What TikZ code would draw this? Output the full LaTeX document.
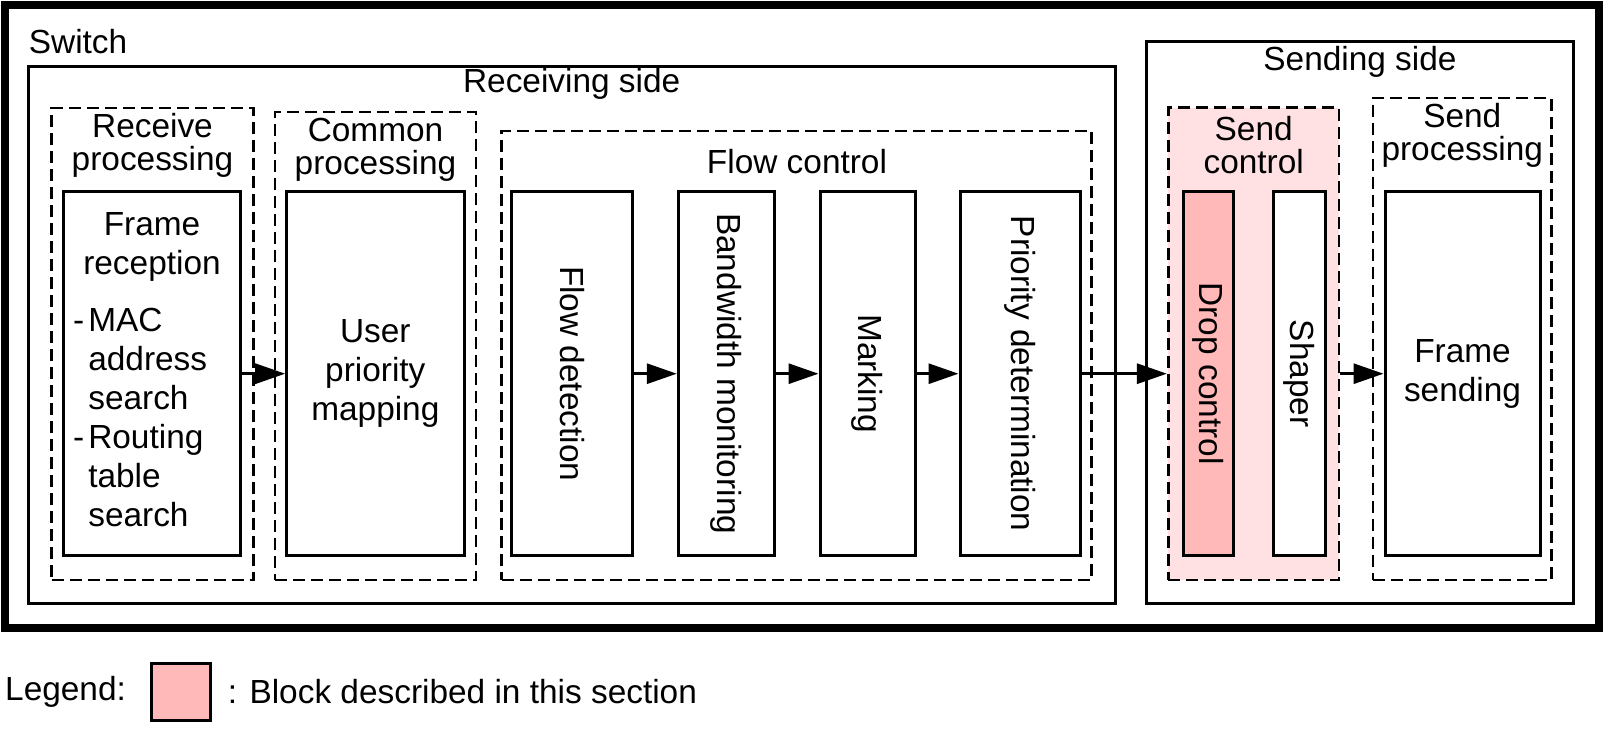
\documentclass[tikz,border=0pt]{standalone}
\usepackage{fontspec}
\setmainfont{Liberation Sans}
\usetikzlibrary{arrows.meta}
\definecolor{pinkdark}{RGB}{255,185,185}
\definecolor{pinklight}{RGB}{255,225,228}
\tikzset{
  blk/.style={draw, line width=3, inner sep=0, align=center},
  grp/.style={draw, line width=2.8, dash pattern=on 12 off 6, inner sep=0},
  side/.style={draw, line width=3, inner sep=0},
  lbl/.style={inner sep=0, align=center, font=\fontsize{33.4}{33}\selectfont},
  vtxt/.style={blk, rotate=-90},
  arr/.style={line width=3, -{Triangle[length=30,width=20]}},
}
\begin{document}
\begin{tikzpicture}[x=1pt,y=-1pt,font=\fontsize{33.4}{39}\selectfont]
\useasboundingbox (0,0) rectangle (1604,729);
% outer switch frame
\node[draw, line width=8, inner sep=0, minimum width=1593.7, minimum height=622.5] (switch) at (802.15,316.25) {};
\node[anchor=base west, inner sep=0] (switchlbl) at (28.7,53.3) {Switch};
% receiving side
\node[side, minimum width=1086.7, minimum height=536.6] (recv) at (571.65,335) {};
\node[lbl] (recvlbl) at (571.7,84) {Receiving side};
% receive processing
\node[grp, minimum width=201.6, minimum height=472] (rproc) at (152.5,344) {};
\node[lbl] (rproclbl) at (152.5,145.5) {Receive\\processing};
\node[blk, minimum width=177.4, minimum height=364] (framerec) at (152,373.7) {};
\node[inner sep=0, align=center] (frtitle) at (152,247) {Frame\\reception};
\node[inner sep=0, anchor=north west] (frlist) at (73,303.5) {\begin{tabular}{@{}l@{\hspace{4pt}}l@{}}-&MAC\\ &address\\ &search\\ -&Routing\\ &table\\ &search\end{tabular}};
% common processing
\node[grp, minimum width=201, minimum height=468] (cproc) at (375.5,346) {};
\node[lbl] (cproclbl) at (375.5,149.5) {Common\\processing};
\node[blk, minimum width=177.3, minimum height=364] (userprio) at (375.35,373.7) {User\\priority\\mapping};
% flow control
\node[grp, minimum width=590, minimum height=449] (flow) at (796.7,355.5) {};
\node[lbl] (flowlbl) at (797,162) {Flow control};
\node[vtxt, minimum width=364, minimum height=120.6] (flowdet) at (572,373.7) {Flow detection};
\node[vtxt, minimum width=364, minimum height=95.7] (bwmon) at (726.15,373.7) {Bandwidth monitoring};
\node[vtxt, minimum width=364, minimum height=95] (marking) at (867.5,373.7) {Marking};
\node[vtxt, minimum width=364, minimum height=120] (priodet) at (1020,373.7) {Priority determination};
% sending side
\node[side, minimum width=426.6, minimum height=562.3] (send) at (1360,322.15) {};
\node[lbl] (sendlbl) at (1360,61.5) {Sending side};
\node[grp, fill=pinklight, minimum width=170.7, minimum height=472.3] (sendctl) at (1253.65,343.85) {};
\node[lbl] (sendctllbl) at (1253.7,145.5) {Send\\control};
\node[vtxt, fill=pinkdark, minimum width=364, minimum height=50] (dropctl) at (1208.3,373.7) {Drop control};
\node[vtxt, fill=white, minimum width=364, minimum height=51.7] (shaper) at (1299.15,373.7) {Shaper};
\node[grp, minimum width=178.7, minimum height=482] (sproc) at (1462.35,339) {};
\node[lbl] (sproclbl) at (1462.3,135) {Send\\processing};
\node[blk, minimum width=155, minimum height=364] (framesend) at (1462.5,373.7) {Frame\\sending};
% arrows
\draw[arr] (framerec.east) -- (userprio.west);
\draw[arr] (flowdet.north) -- (bwmon.south);
\draw[arr] (bwmon.north) -- (marking.south);
\draw[arr] (marking.north) -- (priodet.south);
\draw[arr] (priodet.north) -- (priodet.north -| sendctl.west);
\draw[arr] (sendctl.east |- framesend.west) -- (framesend.west);
% legend
\node[anchor=west, inner sep=0] (legendlbl) at (5,692) {Legend:};
\node[draw, line width=3, fill=pinkdark, minimum width=58.5, minimum height=57.5, inner sep=0] (legbox) at (181,692) {};
\node[anchor=west, inner sep=0] (legtxt) at (227.7,692) {: Block described in this section};
\end{tikzpicture}
\end{document}
